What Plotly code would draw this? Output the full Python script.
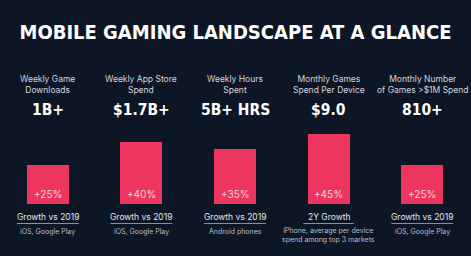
import plotly.graph_objects as go

categories = ["Weekly Game<br>Downloads", "Weekly App Store<br>Spend", "Weekly Hours<br>Spent",
              "Monthly Games<br>Spend Per Device", "Monthly Number<br>of Games >$1M Spend"]
headline_values = ["1B+", "$1.7B+", "5B+ HRS", "$9.0", "810+"]
growth_pct = [25, 40, 35, 45, 25]
growth_labels = ["Growth vs 2019", "Growth vs 2019", "Growth vs 2019", "2Y Growth", "Growth vs 2019"]
source_notes = ["iOS, Google Play", "iOS, Google Play", "Android phones",
                "iPhone, average per device<br>spend among top 3 markets", "iOS, Google Play"]
underline_widths = [0.66, 0.66, 0.66, 0.54, 0.66]

BG = "#0c1625"
BAR = "#ee3560"
CONDENSED = "DejaVu Sans Condensed"
BODY = "Inter, Noto Sans, sans-serif"

H = 256
PLOT_TOP, PLOT_BOT = 126, 204


def py(p):
    return (PLOT_BOT - p) / (PLOT_BOT - PLOT_TOP)


xs = list(range(len(categories)))

fig = go.Figure()
fig.add_trace(go.Bar(x=xs, y=growth_pct, marker=dict(color=BAR, line=dict(width=0)),
                     width=0.45, hoverinfo="skip"))

ann = []
for i, c in enumerate(categories):
    common = dict(x=i, xref="x", xanchor="center", showarrow=False, align="center")
    ann.append(dict(common, y=py(84.5), yref="paper", yanchor="middle", text=c,
                    font=dict(family=BODY, size=8.5, color="#d3d7dd")))
    ann.append(dict(common, y=py(110), yref="paper", yanchor="middle",
                    text="<b>%s</b>" % headline_values[i],
                    font=dict(family=CONDENSED, size=15.5, color="white")))
    ann.append(dict(common, y=0, yref="y", yanchor="bottom", yshift=2,
                    text="+%d%%" % growth_pct[i],
                    font=dict(family=BODY, size=10, color="#f9d3db")))
    ann.append(dict(common, y=py(217), yref="paper", yanchor="middle", text=growth_labels[i],
                    font=dict(family=BODY, size=8.5, color="#e4e7eb")))
    ann.append(dict(common, y=py(235 if i == 3 else 231), yref="paper", yanchor="middle",
                    text=source_notes[i],
                    font=dict(family=BODY, size=7, color="#b9bec6")))

shapes = []
for i, w in enumerate(underline_widths):
    shapes.append(dict(type="line", xref="x", yref="paper", x0=i - w / 2, x1=i + w / 2,
                       y0=py(223.5), y1=py(223.5), line=dict(color="#8b919b", width=1)))

fig.update_layout(
    width=471, height=H,
    paper_bgcolor=BG, plot_bgcolor=BG,
    margin=dict(l=1, r=2, t=PLOT_TOP, b=H - PLOT_BOT),
    title=dict(text="<b>MOBILE GAMING LANDSCAPE AT A GLANCE</b>", x=0.5, xanchor="center",
               y=1 - 32 / H, yanchor="middle",
               font=dict(family=CONDENSED, size=20, color="white")),
    xaxis=dict(range=[-0.5, 4.5], visible=False, fixedrange=True),
    yaxis=dict(range=[0, 50], visible=False, fixedrange=True),
    showlegend=False,
    annotations=ann,
    shapes=shapes,
    bargap=0,
)

fig.write_html("out.html", config={"displayModeBar": False})
